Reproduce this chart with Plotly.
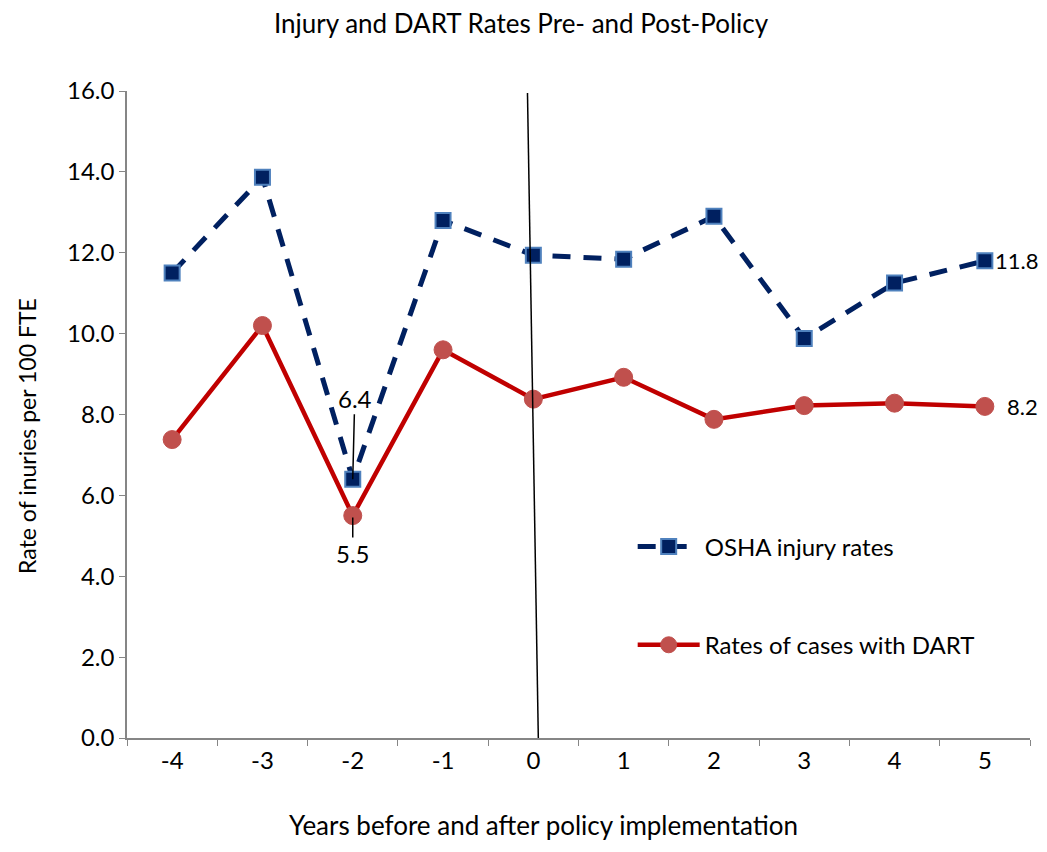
import plotly.graph_objects as go

years = ["-4", "-3", "-2", "-1", "0", "1", "2", "3", "4", "5"]
osha = [11.5, 13.87, 6.4, 12.8, 11.94, 11.84, 12.9, 9.88, 11.25, 11.8]
dart = [7.38, 10.2, 5.5, 9.6, 8.38, 8.92, 7.88, 8.22, 8.28, 8.2]
y_ticks = [0, 2, 4, 6, 8, 10, 12, 14, 16]

FONT = "Lato"
fig = go.Figure()
fig.add_trace(go.Scatter(
    x=years, y=osha, mode="lines+markers", name="OSHA injury rates",
    line=dict(color="#002060", width=5, dash="18px,13px"),
    marker=dict(symbol="square", size=15, color="#002060",
                line=dict(color="#4F81BD", width=2)),
    legendgroup="a"))
fig.add_trace(go.Scatter(
    x=years, y=dart, mode="lines+markers", name="Rates of cases with DART",
    line=dict(color="#C00000", width=4.5),
    marker=dict(symbol="circle", size=18, color="#C0504D",
                line=dict(color="#C0504D", width=1)),
    legendgroup="b"))

i0 = years.index("0")
fig.add_shape(type="line", xref="x", yref="paper",
              x0=i0 - 0.065, x1=i0 + 0.055, y0=0.997, y1=0,
              line=dict(color="black", width=1.5), layer="above")

lab_font = dict(family=FONT, size=24, color="black")
i2 = years.index("-2")
iL = len(years) - 1
fig.add_annotation(x=i2, y=osha[i2], text=f"{osha[i2]:.1f}",
                   showarrow=True, arrowhead=0, arrowwidth=1.5, arrowcolor="black",
                   ax=2, ay=-81, font=lab_font)
fig.add_annotation(x=i2, y=dart[i2], text=f"{dart[i2]:.1f}",
                   showarrow=True, arrowhead=0, arrowwidth=1.5, arrowcolor="black",
                   ax=0, ay=38, standoff=2, font=lab_font)
fig.add_annotation(x=iL, y=osha[iL], text=f"{osha[iL]:.1f}",
                   showarrow=False, xanchor="left", xshift=8,
                   font=dict(family=FONT, size=22, color="black"))
fig.add_annotation(x=iL, y=dart[iL], text=f"{dart[iL]:.1f}",
                   showarrow=False, xanchor="left", xshift=20,
                   font=dict(family=FONT, size=22, color="black"))

# axis titles as annotations for precise placement
fig.add_annotation(text="Years before and after policy implementation",
                   xref="paper", yref="paper", x=0.4607, y=-0.1345, yanchor="middle",
                   showarrow=False, font=dict(family=FONT, size=26, color="black"))
fig.add_annotation(text="Rate of inuries per 100 FTE", textangle=-90,
                   xref="paper", yref="paper", x=-0.1107, xanchor="center",
                   y=0.467, yanchor="middle",
                   showarrow=False, font=dict(family=FONT, size=23, color="black"))

fig.update_layout(
    width=1031, height=836,
    margin=dict(l=119, r=9, t=83, b=106),
    paper_bgcolor="white", plot_bgcolor="white",
    font=dict(family=FONT, size=24, color="black"),
    title=dict(text="Injury and DART Rates Pre- and Post-Policy", x=0.4976, xanchor="center",
               y=0.981, yanchor="middle", font=dict(family=FONT, size=26, color="black")),
    showlegend=True,
    legend=dict(x=0.56, y=0.2195, xanchor="left", yanchor="middle",
                bgcolor="rgba(0,0,0,0)", tracegroupgap=64, itemwidth=62,
                font=dict(family=FONT, size=24, color="black")),
    xaxis=dict(type="category", tickson="boundaries", ticks="outside", ticklen=6,
               tickcolor="#868686", showline=True, linecolor="#868686", linewidth=1.5,
               showgrid=False, zeroline=False, range=[-0.5, 9.5],
               tickfont=dict(family=FONT, size=24)),
    yaxis=dict(range=[0, 16], tickvals=y_ticks, ticktext=[f"{v:.1f}" for v in y_ticks],
               ticks="outside", ticklen=6, tickcolor="#868686",
               showline=True, linecolor="#868686", linewidth=1.5,
               showgrid=False, zeroline=False, tickfont=dict(family=FONT, size=24)),
)

fig.write_html("out.html")
